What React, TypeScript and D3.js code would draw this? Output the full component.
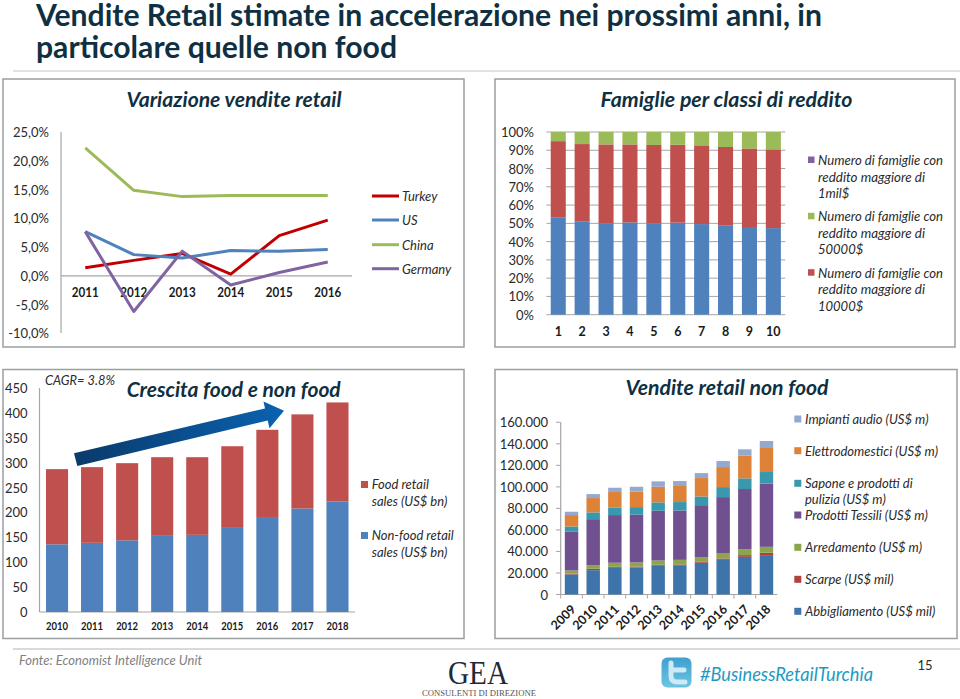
import React from "react";
import * as d3 from "d3";

// ---------- data ----------
const lineYears = ["2011", "2012", "2013", "2014", "2015", "2016"];
const turkey = [1.4, 2.7, 3.9, 0.3, 7.0, 9.7];
const us = [7.7, 3.7, 3.1, 4.4, 4.3, 4.6];
const china = [22.3, 14.9, 13.8, 14.0, 14.0, 14.0];
const germany = [7.7, -6.2, 4.3, -1.6, 0.6, 2.4];
const lineTicks = ["25,0%", "20,0%", "15,0%", "10,0%", "5,0%", "0,0%", "-5,0%", "-10,0%"];
const lineTickValues = [25, 20, 15, 10, 5, 0, -5, -10];

const classCats = ["1", "2", "3", "4", "5", "6", "7", "8", "9", "10"];
const class10k = [53.1, 50.9, 50.0, 50.5, 50.0, 50.4, 49.6, 48.7, 48.0, 47.4];
const class50k = [41.9, 42.5, 43.2, 42.7, 42.9, 42.6, 43.1, 43.1, 43.0, 43.1];
const class1m = [5.0, 6.6, 6.8, 6.8, 7.1, 7.0, 7.3, 8.2, 9.0, 9.5];
const classTicks = [0, 10, 20, 30, 40, 50, 60, 70, 80, 90, 100];

const foodYears = ["2010", "2011", "2012", "2013", "2014", "2015", "2016", "2017", "2018"];
const nonFoodSales = [136, 139, 144, 153, 155, 169, 189, 208, 222];
const foodSales = [151, 152, 155, 158, 156, 164, 177, 189, 199];
const foodTicks = [0, 50, 100, 150, 200, 250, 300, 350, 400, 450];

const nfYears = ["2009", "2010", "2011", "2012", "2013", "2014", "2015", "2016", "2017", "2018"];
const abbigliamento = [18600, 22600, 24800, 25100, 26700, 26700, 29500, 32200, 35000, 36600];
const scarpe = [900, 1300, 900, 900, 900, 1200, 1200, 1300, 1600, 2200];
const arredamento = [2800, 3400, 3800, 3800, 4000, 4300, 4000, 4600, 5300, 5500];
const tessili = [36300, 42700, 44300, 44300, 46200, 45900, 48300, 52400, 56100, 58700];
const sapone = [4600, 6300, 6800, 7100, 7800, 7800, 8100, 9300, 9900, 10800];
const elettro = [10600, 13300, 14600, 14300, 14500, 14900, 17100, 18600, 21100, 22300];
const audio = [3100, 3700, 4000, 4600, 5000, 4600, 4600, 5600, 5900, 6500];
const nfTicks = [0, 20000, 40000, 60000, 80000, 100000, 120000, 140000, 160000];

// ---------- style ----------
const FONT = "Lato, Carlito, Calibri, sans-serif";
const DARK = "#0f3042";
const AXIS = "#a6a6a6";
const FRAME = "#9a9f9f";
const BLUE = "#4f81bd";
const RED = "#c0504d";
const GREEN = "#9bbb59";
const PURPLE = "#8064a2";

type TP = {
  x: number; y: number; s: string; size?: number; bold?: boolean; italic?: boolean;
  anchor?: "start" | "middle" | "end"; fill?: string; w?: number; font?: string;
};
const T = ({ x, y, s, size = 13, bold, italic, anchor = "start", fill = "#1a1a1a", w, font = FONT }: TP) => (
  <text
    x={x}
    y={y}
    fontFamily={font}
    fontSize={size}
    fontWeight={bold ? 700 : 400}
    fontStyle={italic ? "italic" : "normal"}
    textAnchor={anchor}
    dominantBaseline="central"
    fill={fill}
    textLength={w}
    lengthAdjust={w ? "spacingAndGlyphs" : undefined}
  >
    {s}
  </text>
);

const Frame = ({ x0, x1, y0, y1 }: { x0: number; x1: number; y0: number; y1: number }) => (
  <rect x={x0} y={y0} width={x1 - x0} height={y1 - y0} fill="#fff" stroke={FRAME} strokeWidth={1.5} />
);

// ---------- chart 1 ----------
const LineChart = () => {
  const y = d3.scaleLinear().domain([-10, 25]).range([333.3, 132.3]);
  const x = d3.scaleBand<string>().domain(lineYears).range([61, 352]);
  const cx = (d: string) => x(d)! + x.bandwidth() / 2;
  const line = d3.line<number>().x((_, i) => cx(lineYears[i])).y((d) => y(d));
  const series: [string, number[], string, number][] = [
    ["Turkey", turkey, "#c00000", 196],
    ["US", us, "#4f81bd", 220],
    ["China", china, GREEN, 244.7],
    ["Germany", germany, PURPLE, 268.7],
  ];
  return (
    <g>
      <Frame x0={3} x1={464} y0={79} y1={347} />
      <T x={234} y={98.5} s="Variazione vendite retail" size={20} bold italic anchor="middle" fill={DARK} w={215} />
      <line x1={61} x2={61} y1={132} y2={333} stroke={AXIS} strokeWidth={1.2} />
      <line x1={61} x2={352} y1={y(0)} y2={y(0)} stroke={AXIS} strokeWidth={1.2} />
      {lineTicks.map((t, i) => (
        <T key={t} x={49} y={y(lineTickValues[i])} s={t} size={13} anchor="end" fill="#2a2a2a" />
      ))}
      {lineYears.map((d) => (
        <T key={d} x={cx(d)} y={292.7} s={d} size={12.5} bold anchor="middle" w={27} />
      ))}
      {series.map(([name, vals, col, ly]) => (
        <g key={name}>
          <path d={line(vals)!} fill="none" stroke={col} strokeWidth={3} strokeLinejoin="round" />
          <line x1={372} x2={399} y1={ly} y2={ly} stroke={col} strokeWidth={3} />
          <T x={402} y={ly} s={name} size={13} italic fill="#2a2a2a" />
        </g>
      ))}
    </g>
  );
};

// ---------- chart 2 ----------
const ClassChart = () => {
  const y = d3.scaleLinear().domain([0, 100]).range([314.7, 132]);
  const x = d3.scaleBand<string>().domain(classCats).range([546.3, 785.3]);
  const bw = x.bandwidth() * 0.63;
  const rows = classCats.map((c, i) => ({ c, a: class10k[i], b: class50k[i], m: class1m[i] }));
  const stack = d3.stack<any>().keys(["a", "b", "m"])(rows);
  const cols = [BLUE, RED, GREEN];
  const legend: [string, string[], number[]][] = [
    [PURPLE, ["Numero di famiglie con", "reddito maggiore di", "1mil$"], [160, 176.7, 192.7]],
    [GREEN, ["Numero di famiglie con", "reddito maggiore di", "50000$"], [216.3, 232.7, 249]],
    [RED, ["Numero di famiglie con", "reddito maggiore di", "10000$"], [272.7, 289.3, 305.7]],
  ];
  return (
    <g>
      <Frame x0={495} x1={955} y0={79} y1={347} />
      <T x={726.5} y={98.5} s="Famiglie per classi di reddito" size={20} bold italic anchor="middle" fill={DARK} w={252} />
      {classTicks.map((t) => (
        <g key={t}>
          <line x1={546.3} x2={785.3} y1={y(t)} y2={y(t)} stroke={AXIS} strokeWidth={1} />
          <T x={534} y={y(t)} s={`${t}%`} size={13} anchor="end" fill="#2a2a2a" />
        </g>
      ))}
      {stack.map((s, k) => (
        <g key={k} fill={cols[k]}>
          {s.map((d, i) => (
            <rect
              key={i}
              x={x(classCats[i])! + (x.bandwidth() - bw) / 2}
              width={bw}
              y={y(d[1])}
              height={y(d[0]) - y(d[1])}
            />
          ))}
        </g>
      ))}
      {classCats.map((c) => (
        <T key={c} x={x(c)! + x.bandwidth() / 2} y={331.7} s={c} size={12.5} bold anchor="middle" />
      ))}
      {legend.map(([col, lines, ys]) => (
        <g key={col}>
          <rect x={808} y={ys[0] - 3.5} width={6.5} height={6.5} fill={col} />
          {lines.map((l, i) => (
            <T key={i} x={818} y={ys[i]} s={l} size={13} italic fill="#2a2a2a" w={l.startsWith("Numero") ? 125 : l.startsWith("reddito") ? 107 : undefined} />
          ))}
        </g>
      ))}
    </g>
  );
};

// ---------- chart 3 ----------
const FoodChart = () => {
  const y = d3.scaleLinear().domain([0, 450]).range([612, 388]);
  const x = d3.scaleBand<string>().domain(foodYears).range([39.5, 355]);
  const bw = x.bandwidth() * 0.63;
  const rows = foodYears.map((c, i) => ({ n: nonFoodSales[i], f: foodSales[i] }));
  const stack = d3.stack<any>().keys(["n", "f"])(rows);
  const cols = [BLUE, RED];
  return (
    <g>
      <Frame x0={3} x1={464} y0={369.5} y1={638.5} />
      <line x1={39.5} x2={39.5} y1={388} y2={612} stroke={AXIS} strokeWidth={1.2} />
      <line x1={39.5} x2={355} y1={612} y2={612} stroke={AXIS} strokeWidth={1.2} />
      {foodTicks.map((t) => (
        <T key={t} x={27.5} y={y(t)} s={String(t)} size={13} anchor="end" fill="#2a2a2a" />
      ))}
      {stack.map((s, k) => (
        <g key={k} fill={cols[k]}>
          {s.map((d, i) => (
            <rect
              key={i}
              x={x(foodYears[i])! + (x.bandwidth() - bw) / 2}
              width={bw}
              y={y(d[1])}
              height={y(d[0]) - y(d[1])}
            />
          ))}
        </g>
      ))}
      {foodYears.map((d) => (
        <T key={d} x={x(d)! + x.bandwidth() / 2} y={625.5} s={d} size={10.5} bold anchor="middle" w={22} />
      ))}
      <T x={45} y={380} s="CAGR= 3.8%" size={12.5} italic fill="#2a2a2a" w={70} />
      <T x={233.7} y={389} s="Crescita food e non food" size={20} bold italic anchor="middle" fill={DARK} w={214} />
      <defs>
        <linearGradient id="arrowGrad" x1="0" y1="0" x2="1" y2="0">
          <stop offset="0" stopColor="#0a3a6b" />
          <stop offset="1" stopColor="#0a62b0" />
        </linearGradient>
      </defs>
      <polygon
        points="74,453.3 265,408.5 263.5,401.5 284,410.7 269.5,428.3 267.7,420.5 77.3,466"
        fill="url(#arrowGrad)"
      />
      <rect x={361} y={481} width={7} height={7} fill={RED} />
      <T x={371.7} y={484.3} s="Food retail" size={13} italic fill="#2a2a2a" />
      <T x={371.7} y={500.7} s="sales (US$ bn)" size={13} italic fill="#2a2a2a" />
      <rect x={361} y={532} width={7} height={7} fill={BLUE} />
      <T x={371.7} y={535.3} s="Non-food retail" size={13} italic fill="#2a2a2a" />
      <T x={371.7} y={551.7} s="sales (US$ bn)" size={13} italic fill="#2a2a2a" />
    </g>
  );
};

// ---------- chart 4 ----------
const NonFoodChart = () => {
  const y = d3.scaleLinear().domain([0, 160000]).range([594.5, 422.3]);
  const x = d3.scaleBand<string>().domain(nfYears).range([560.7, 777.3]);
  const bw = x.bandwidth() * 0.62;
  const keys = ["abb", "sca", "arr", "tes", "sap", "ele", "aud"];
  const rows = nfYears.map((_, i) => ({
    abb: abbigliamento[i], sca: scarpe[i], arr: arredamento[i], tes: tessili[i],
    sap: sapone[i], ele: elettro[i], aud: audio[i],
  }));
  const stack = d3.stack<any>().keys(keys)(rows);
  const cols = ["#3f74ab", "#b0413e", "#8aa54a", "#71508f", "#3a98ae", "#dd8237", "#95a8d0"];
  const fmt = (v: number) => (v === 0 ? "0" : d3.format(",")(v).replace(/,/g, "."));
  const legend: [string, string[], number[]][] = [
    [cols[6], ["Impianti audio (US$ m)"], [419]],
    [cols[5], ["Elettrodomestici (US$ m)"], [450.7]],
    [cols[4], ["Sapone e prodotti di", "pulizia (US$ m)"], [483.3, 499.3]],
    [cols[3], ["Prodotti Tessili (US$ m)"], [515]],
    [cols[2], ["Arredamento (US$ m)"], [547.3]],
    [cols[1], ["Scarpe (US$ mil)"], [579.3]],
    [cols[0], ["Abbigliamento (US$ mil)"], [611.3]],
  ];
  return (
    <g>
      <Frame x0={495} x1={957} y0={369.5} y1={638.5} />
      <T x={727} y={386.5} s="Vendite retail non food" size={20} bold italic anchor="middle" fill={DARK} w={203} />
      <line x1={560.7} x2={560.7} y1={y(160000)} y2={y(0)} stroke={AXIS} strokeWidth={1.2} />
      <line x1={560.7} x2={777.3} y1={y(0)} y2={y(0)} stroke={AXIS} strokeWidth={1.2} />
      {nfTicks.map((t) => (
        <g key={t}>
          <line x1={556} x2={560.7} y1={y(t)} y2={y(t)} stroke={AXIS} />
          <T x={548} y={y(t)} s={fmt(t)} size={13} anchor="end" fill="#2a2a2a" />
        </g>
      ))}
      {nfYears.map((_, i) => (
        <line key={i} x1={560.7 + i * x.step()} x2={560.7 + i * x.step()} y1={y(0)} y2={y(0) + 4} stroke={AXIS} />
      ))}
      {stack.map((s, k) => (
        <g key={k} fill={cols[k]}>
          {s.map((d, i) => (
            <rect
              key={i}
              x={x(nfYears[i])! + (x.bandwidth() - bw) / 2}
              width={bw}
              y={y(d[1])}
              height={y(d[0]) - y(d[1])}
            />
          ))}
        </g>
      ))}
      {nfYears.map((d) => {
        const lx = x(d)! + x.bandwidth() / 2 + 5;
        return (
          <text
            key={d}
            x={lx}
            y={610}
            fontFamily={FONT}
            fontSize={12.5}
            fontWeight={700}
            textAnchor="end"
            textLength={29}
            lengthAdjust="spacingAndGlyphs"
            fill="#1a1a1a"
            transform={`rotate(-45 ${lx} 610)`}
          >
            {d}
          </text>
        );
      })}
      {legend.map(([col, lines, ys]) => (
        <g key={col}>
          <rect x={794.3} y={ys[0] - 3.5} width={7} height={7} fill={col} />
          {lines.map((l, i) => (
            <T key={i} x={805} y={ys[i]} s={l} size={13} italic fill="#2a2a2a" />
          ))}
        </g>
      ))}
    </g>
  );
};

// ---------- page ----------
export default function App() {
  return (
    <svg
      width={960}
      height={699}
      viewBox="0 0 960 699"
      style={{ position: "absolute", left: 0, top: 0, display: "block", background: "#fff" }}
    >
      <defs>
        <linearGradient id="twGrad" x1="0" y1="0" x2="0" y2="1">
          <stop offset="0" stopColor="#3f9fd0" />
          <stop offset="1" stopColor="#6cc5e2" />
        </linearGradient>
      </defs>
      <T x={36} y={14} s="Vendite Retail stimate in accelerazione nei prossimi anni, in" size={29.5} bold fill={DARK} w={786} />
      <T x={36} y={46} s="particolare quelle non food" size={29.5} bold fill={DARK} w={361} />
      <line x1={13} x2={960} y1={71} y2={71} stroke="#d9d9d9" strokeWidth={1.5} />
      <LineChart />
      <ClassChart />
      <FoodChart />
      <NonFoodChart />
      <line x1={13} x2={960} y1={649} y2={649} stroke="#d9d9d9" strokeWidth={2} />
      <T x={19} y={660} s="Fonte: Economist Intelligence Unit" size={13.5} italic fill="#7f7f7f" w={183} />
      <text x={478} y={684} fontFamily="Liberation Serif, serif" fontSize={33} fill="#1d2a38" textAnchor="middle" textLength={60} lengthAdjust="spacingAndGlyphs">GEA</text>
      <T x={479} y={693} s="CONSULENTI DI DIREZIONE" size={7.5} anchor="middle" fill="#555" font="Liberation Serif, serif" w={114} />
      <rect x={661.5} y={657.5} width={30} height={30} rx={6} fill="url(#twGrad)" />
      <path d="M671,663 v13 q0,6 6,6 h8 M671,670 h13" fill="none" stroke="#cfeaf6" strokeWidth={5} strokeLinecap="round" />
      <T x={700} y={673} s="#BusinessRetailTurchia" size={19} italic fill="#1e9ac2" w={173} />
      <T x={925} y={665} s="15" size={13} anchor="middle" fill="#2a2a2a" />
    </svg>
  );
}
